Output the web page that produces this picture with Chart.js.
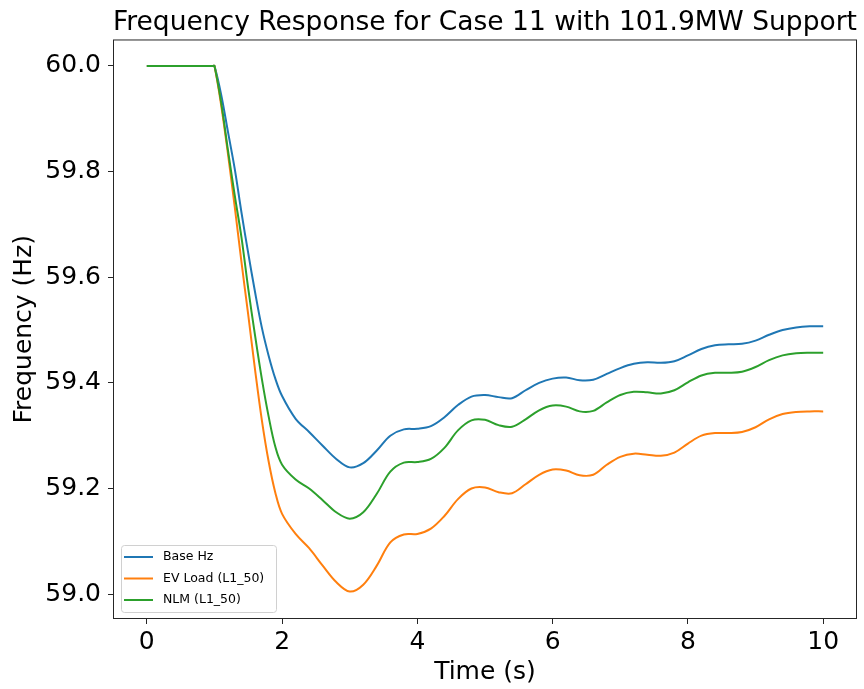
<!DOCTYPE html>
<html>
<head>
<meta charset="utf-8">
<script src="https://cdn.jsdelivr.net/npm/chart.js@4.4.1/dist/chart.umd.min.js"></script>
<style>
  html, body { margin: 0; padding: 0; background: #fff; }
  canvas { display: block; }
</style>
</head>
<body>
<canvas id="chart" width="864" height="689"></canvas>
<script>
// ----- Data -----
const times = [0, 0.98, 1.0, 1.1, 1.2, 1.3, 1.4, 1.5, 1.6, 1.7, 1.8, 1.9, 2.0,
  2.2, 2.4, 2.6, 2.8, 3.0, 3.2, 3.4, 3.6, 3.8, 4.0, 4.2, 4.4, 4.6, 4.8, 5.0,
  5.2, 5.4, 5.6, 5.8, 6.0, 6.2, 6.4, 6.6, 6.8, 7.0, 7.2, 7.4, 7.6, 7.8, 8.0,
  8.2, 8.4, 8.6, 8.8, 9.0, 9.2, 9.4, 9.6, 9.8, 10.0];

const baseHz = [60.0, 60.0, 60.0, 59.945, 59.875, 59.805, 59.722, 59.645, 59.572, 59.505, 59.452, 59.408, 59.375,
  59.332, 59.307, 59.281, 59.256, 59.240, 59.248, 59.272, 59.300, 59.312, 59.313, 59.318, 59.335, 59.358, 59.374, 59.377,
  59.373, 59.371, 59.386, 59.400, 59.408, 59.410, 59.405, 59.406, 59.417, 59.428, 59.436, 59.439, 59.438, 59.441, 59.452,
  59.464, 59.471, 59.473, 59.474, 59.480, 59.491, 59.500, 59.505, 59.507, 59.507];

const evLoad = [60.0, 60.0, 60.0, 59.925, 59.833, 59.733, 59.628, 59.528, 59.425, 59.330, 59.252, 59.192, 59.152,
  59.114, 59.087, 59.054, 59.023, 59.005, 59.018, 59.054, 59.098, 59.113, 59.114, 59.124, 59.148, 59.180, 59.200, 59.202,
  59.193, 59.191, 59.208, 59.226, 59.236, 59.234, 59.225, 59.226, 59.245, 59.260, 59.266, 59.264, 59.262, 59.268, 59.285,
  59.300, 59.305, 59.305, 59.307, 59.316, 59.331, 59.341, 59.345, 59.346, 59.346];

const nlm = [60.0, 60.0, 60.0, 59.930, 59.840, 59.755, 59.675, 59.578, 59.490, 59.408, 59.337, 59.279, 59.245,
  59.217, 59.200, 59.178, 59.155, 59.143, 59.155, 59.190, 59.232, 59.249, 59.250, 59.256, 59.277, 59.310, 59.329, 59.330,
  59.320, 59.317, 59.331, 59.348, 59.357, 59.355, 59.346, 59.347, 59.363, 59.377, 59.383, 59.382, 59.380, 59.386, 59.401,
  59.414, 59.419, 59.419, 59.421, 59.430, 59.443, 59.452, 59.456, 59.457, 59.457];

const seriesLabels = ["Base Hz", "EV Load (L1_50)", "NLM (L1_50)"];
const seriesColors = ["#1f77b4", "#ff7f0e", "#2ca02c"];
const xTicks = [0, 2, 4, 6, 8, 10];
const yTicks = [59.0, 59.2, 59.4, 59.6, 59.8, 60.0];

const FONT = "'DejaVu Sans', sans-serif";

// ----- Plugins -----
const frame = {
  id: "frame",
  afterDatasetsDraw(chart) {
    const { ctx, chartArea: a } = chart;
    ctx.save();
    ctx.strokeStyle = "#262626";
    ctx.lineWidth = 1;
    ctx.strokeRect(a.left + 0.5, a.top + 0.5, a.right - a.left - 1, a.bottom - a.top - 1);
    ctx.restore();
  }
};

const boxLegend = {
  id: "boxLegend",
  afterDraw(chart) {
    const { ctx, chartArea: a } = chart;
    const x = a.left + 8, y = a.bottom - 74, w = 155, h = 67;
    ctx.save();
    ctx.fillStyle = "rgba(255,255,255,0.8)";
    ctx.strokeStyle = "#d0d0d0";
    ctx.lineWidth = 1;
    ctx.beginPath();
    ctx.roundRect(x + 0.5, y + 0.5, w, h, 3);
    ctx.fill();
    ctx.stroke();
    ctx.font = "12.5px " + FONT;
    ctx.textBaseline = "middle";
    ctx.fillStyle = "#000";
    seriesLabels.forEach((lab, i) => {
      const ry = y + 12 + i * 21.5;
      ctx.strokeStyle = seriesColors[i];
      ctx.lineWidth = 2;
      ctx.beginPath();
      ctx.moveTo(x + 3, ry);
      ctx.lineTo(x + 32, ry);
      ctx.stroke();
      ctx.fillText(lab, x + 42, ry);
    });
    ctx.restore();
  }
};

// ----- Chart -----
const mk = (vals, i) => ({
  label: seriesLabels[i],
  data: times.map((t, k) => ({ x: t, y: vals[k] })),
  borderColor: seriesColors[i],
  backgroundColor: seriesColors[i],
  borderWidth: 2,
  pointRadius: 0,
  tension: 0.35,
  order: 3 - i
});

new Chart(document.getElementById("chart"), {
  type: "line",
  data: { datasets: [mk(baseHz, 0), mk(evLoad, 1), mk(nlm, 2)] },
  options: {
    responsive: false,
    animation: false,
    layout: { padding: { top: 0, right: 7, bottom: 0, left: 0 } },
    plugins: {
      legend: { display: false },
      tooltip: { enabled: false },
      title: {
        display: true,
        text: "Frequency Response for Case 11 with 101.9MW Support",
        align: "end",
        color: "#000",
        font: { family: FONT, size: 26.5, weight: "normal", lineHeight: 1.15 },
        padding: { top: 8, bottom: 1 }
      }
    },
    scales: {
      x: {
        type: "linear",
        min: -0.5, max: 10.5,
        afterBuildTicks: s => { s.ticks = xTicks.map(v => ({ value: v })); },
        afterFit: s => { s.height = 70; },
        grid: { drawOnChartArea: false, drawTicks: true, tickLength: 5, color: "#262626" },
        border: { display: false },
        ticks: { color: "#000", padding: 3, maxRotation: 0, font: { family: FONT, size: 25 }, callback: v => String(v) },
        title: { display: true, text: "Time (s)", color: "#000", font: { family: FONT, size: 25 }, padding: { top: 0, bottom: 2 } }
      },
      y: {
        min: 58.953, max: 60.05,
        afterBuildTicks: s => { s.ticks = yTicks.map(v => ({ value: v })); },
        afterFit: s => { s.width = 113; },
        grid: { drawOnChartArea: false, drawTicks: true, tickLength: 5, color: "#262626" },
        border: { display: false },
        ticks: { color: "#000", padding: 7, font: { family: FONT, size: 25 }, callback: v => v.toFixed(1) },
        title: { display: true, text: "Frequency (Hz)", color: "#000", font: { family: FONT, size: 25 }, padding: { top: 9, bottom: 0 } }
      }
    }
  },
  plugins: [frame, boxLegend]
});
</script>
</body>
</html>
